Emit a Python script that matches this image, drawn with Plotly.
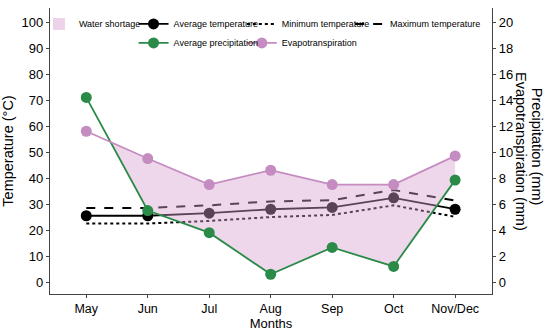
import plotly.graph_objects as go

months = ["May", "Jun", "Jul", "Aug", "Sep", "Oct", "Nov/Dec"]
avg_temp = [25.5, 25.5, 26.5, 28.0, 28.7, 32.4, 28.0]
min_temp = [22.5, 22.5, 23.5, 25.0, 25.8, 29.5, 25.1]
max_temp = [28.5, 28.5, 29.5, 31.0, 31.5, 35.4, 31.3]
precip_mm = [14.2, 5.5, 3.8, 0.6, 2.66, 1.2, 7.84]
evapo_mm = [11.6, 9.5, 7.5, 8.6, 7.5, 7.5, 9.7]
left_ticks = [0, 10, 20, 30, 40, 50, 60, 70, 80, 90, 100]
right_ticks = [0, 2, 4, 6, 8, 10, 12, 14, 16, 18, 20]

FONT = "Liberation Sans, Arial, Helvetica, sans-serif"
GREEN = "#2a8a48"
PINK = "#c58cc1"
FILL = "rgba(214,160,208,0.42)"
LEG_FILL = "#ecd3e9"

x = list(range(len(months)))

# water shortage polygon: between evapotranspiration (upper) and precipitation where ET > P
xs, up, lo = [], [], []
for i in range(len(x)):
    e, p = evapo_mm[i], precip_mm[i]
    if i > 0:
        e0, p0 = evapo_mm[i - 1], precip_mm[i - 1]
        d0, d1 = e0 - p0, e - p
        if d0 * d1 < 0:
            t = d0 / (d0 - d1)
            xc = x[i - 1] + t
            yc = e0 + t * (e - e0)
            xs.append(xc); up.append(yc); lo.append(yc)
    xs.append(x[i]); up.append(e); lo.append(min(e, p))
poly_x = xs + xs[::-1]
poly_y = up + lo[::-1]

fig = go.Figure()

fig.add_trace(go.Scatter(x=x, y=max_temp, mode="lines", name="Maximum temperature",
                         line=dict(color="black", width=2, dash="dash"),
                         legend="legend4"))
fig.add_trace(go.Scatter(x=x, y=min_temp, mode="lines", name="Minimum temperature",
                         line=dict(color="black", width=2, dash="dot"),
                         legend="legend3", legendrank=1))
fig.add_trace(go.Scatter(x=x, y=avg_temp, mode="lines+markers", name="Average temperature",
                         line=dict(color="black", width=1.8),
                         marker=dict(color="black", size=11),
                         legend="legend2", legendrank=1))
fig.add_trace(go.Scatter(x=poly_x, y=poly_y, yaxis="y2", mode="lines", fill="toself",
                         fillcolor=FILL, line=dict(width=0), name="Water shortage",
                         hoverinfo="skip", showlegend=False))
# legend-only entry for the water shortage swatch
fig.add_trace(go.Scatter(x=[None], y=[None], mode="markers", name="Water shortage",
                         marker=dict(symbol="square", color=LEG_FILL, size=12),
                         legend="legend"))
fig.add_trace(go.Scatter(x=x, y=precip_mm, yaxis="y2", mode="lines+markers",
                         name="Average precipitation",
                         line=dict(color=GREEN, width=1.8),
                         marker=dict(color=GREEN, size=11),
                         legend="legend2", legendrank=2))
fig.add_trace(go.Scatter(x=x, y=evapo_mm, yaxis="y2", mode="lines+markers",
                         name="Evapotranspiration",
                         line=dict(color=PINK, width=1.8),
                         marker=dict(color=PINK, size=11),
                         legend="legend3", legendrank=2))

leg_common = dict(yanchor="top", y=0.995, xanchor="left", orientation="v",
                  bgcolor="rgba(0,0,0,0)", font=dict(size=9), itemwidth=30,
                  tracegroupgap=0, itemclick=False, itemdoubleclick=False)

fig.update_layout(
    width=550, height=332,
    margin=dict(l=50, r=58, t=8, b=38),
    paper_bgcolor="white", plot_bgcolor="white",
    font=dict(family=FONT, color="black", size=12),
    xaxis=dict(range=[-0.59, 6.6], tickvals=x, ticktext=months,
               showgrid=False, zeroline=False, showline=True, linecolor="#444",
               linewidth=1.2, ticks="outside", ticklen=3, tickcolor="#444",
               tickfont=dict(size=12.5),
               title=dict(text="Months", font=dict(size=13), standoff=0)),
    yaxis=dict(range=[-4.6, 105.4], tickvals=left_ticks, showgrid=False, zeroline=False,
               showline=True, linecolor="#444", linewidth=1.2, ticks="outside",
               ticklen=3, tickcolor="#444", tickfont=dict(size=13),
               title=dict(text="Temperature (°C)", font=dict(size=14.5), standoff=4)),
    yaxis2=dict(range=[-0.92, 21.08], tickvals=right_ticks, overlaying="y", side="right",
                showgrid=False, zeroline=False, showline=True, linecolor="#444",
                linewidth=1.2, ticks="outside", ticklen=3, tickcolor="#444",
                tickfont=dict(size=13)),
    legend=dict(x=-0.025, **leg_common),
    legend2=dict(x=0.189, **leg_common),
    legend3=dict(x=0.434, **leg_common),
    legend4=dict(x=0.679, **leg_common),
    annotations=[
        dict(text="Precipitation (mm)", xref="paper", yref="paper", x=1.0, y=0.515,
             xanchor="center", yanchor="middle", xshift=45, textangle=90,
             showarrow=False, font=dict(size=14.5)),
        dict(text="Evapotranspiration (mm)", xref="paper", yref="paper", x=1.0, y=0.5,
             xanchor="center", yanchor="middle", xshift=29, textangle=90,
             showarrow=False, font=dict(size=14.5)),
    ],
    showlegend=True,
)

fig.write_html("out.html", config={"displayModeBar": False},
               post_script="document.body.style.margin='0px';")
